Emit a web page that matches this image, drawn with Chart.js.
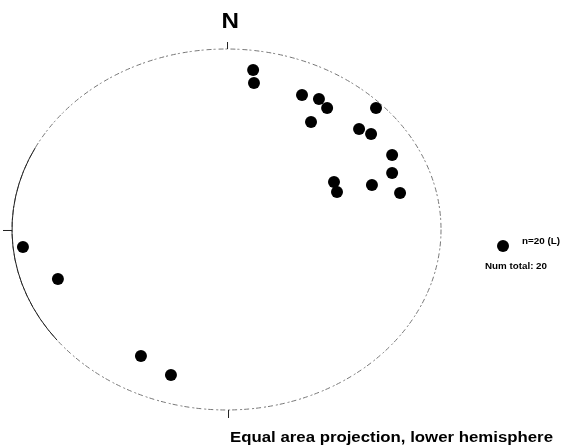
<!DOCTYPE html>
<html lang="en">
<head>
<meta charset="UTF-8">
<title>Equal area projection</title>
<script src="https://cdn.jsdelivr.net/npm/chart.js"></script>
<style>
    html, body { margin: 0; padding: 0; background: #fff; }
    #wrap { width: 562px; height: 445px; }
</style>
</head>
<body>
<div id="wrap"><canvas id="net"></canvas></div>
<script>
    // pole positions in net coordinates (-1..1, centre of the primitive circle)
    const poleX = [0.124, 0.128, 0.352, 0.431, 0.469, 0.697, 0.394, 0.618, 0.674, 0.772,
                   0.772, 0.501, 0.515, 0.678, 0.809, -0.949, -0.786, -0.399, -0.259];
    const poleY = [0.884, 0.812, 0.745, 0.723, 0.673, 0.673, 0.596, 0.557, 0.529, 0.413,
                   0.313, 0.263, 0.208, 0.247, 0.202, -0.097, -0.274, -0.701, -0.806];
    const legendX = [1.289];
    const legendY = [-0.091];
    const legendLines = ['n=20 (L)', 'Num total: 20'];
    const northLabel = 'N';
    const caption = 'Equal area projection, lower hemisphere';

    // axis ranges so that the unit circle sits where the original net is
    const xMin = -1.056, xMax = 1.564;
    const yMin = -1.194, yMax = 1.2715;

    const poles = poleX.map((x, i) => ({ x: x, y: poleY[i] }));
    const legendPts = legendX.map((x, i) => ({ x: x, y: legendY[i] }));

    function stretchedText(ctx, txt, x, y, sx) {
        ctx.save();
        ctx.translate(x, y);
        ctx.scale(sx, 1);
        ctx.fillText(txt, 0, 0);
        ctx.restore();
    }

    const netPlugin = {
        id: 'net',
        beforeDatasetsDraw(chart) {
            const ctx = chart.ctx;
            const sx = chart.scales.x, sy = chart.scales.y;
            const cx = sx.getPixelForValue(0), cy = sy.getPixelForValue(0);
            const rx = sx.getPixelForValue(1) - cx;
            const ry = cy - sy.getPixelForValue(1);
            ctx.save();
            // primitive circle, broken grey like the scan
            ctx.strokeStyle = '#777';
            ctx.lineWidth = 1;
            ctx.setLineDash([5, 2, 2, 3]);
            ctx.beginPath();
            ctx.ellipse(cx, cy, rx, ry, 0, 0, Math.PI * 2);
            ctx.stroke();
            // left part is darker and solid in the original
            ctx.setLineDash([]);
            ctx.strokeStyle = '#222';
            ctx.beginPath();
            ctx.ellipse(cx, cy, rx, ry, 0, Math.PI * 0.79, Math.PI * 1.15);
            ctx.stroke();
            ctx.beginPath();
            // N, W and S ticks
            ctx.moveTo(cx + 1, cy - ry); ctx.lineTo(cx + 1, cy - ry - 7);
            ctx.moveTo(cx - rx, cy + 1); ctx.lineTo(cx - rx - 9, cy + 1);
            ctx.moveTo(cx + 2, cy + ry); ctx.lineTo(cx + 2, cy + ry + 8);
            ctx.stroke();

            ctx.fillStyle = '#000';
            ctx.textBaseline = 'alphabetic';
            ctx.textAlign = 'left';
            ctx.font = 'bold 22px "Liberation Sans", Arial, sans-serif';
            stretchedText(ctx, northLabel, cx - 5, cy - ry - 21, 1.1);

            ctx.font = 'bold 14px "Liberation Sans", Arial, sans-serif';
            const w = ctx.measureText(caption).width;
            stretchedText(ctx, caption, 230, 442, 323 / w);

            const lx = sx.getPixelForValue(legendX[0]);
            const ly = sy.getPixelForValue(legendY[0]);
            ctx.font = 'bold 9px "Liberation Sans", Arial, sans-serif';
            const w1 = ctx.measureText(legendLines[0]).width;
            stretchedText(ctx, legendLines[0], lx + 19, ly - 2, 38 / w1);
            const w2 = ctx.measureText(legendLines[1]).width;
            stretchedText(ctx, legendLines[1], lx - 18, ly + 23, 62 / w2);
            ctx.restore();
        }
    };

    new Chart(document.getElementById('net'), {
        type: 'scatter',
        data: {
            datasets: [{
                label: 'poles',
                data: poles,
                pointRadius: 6,
                pointHoverRadius: 6,
                backgroundColor: '#000',
                borderColor: '#000',
                borderWidth: 0
            }, {
                label: 'legend',
                data: legendPts,
                pointRadius: 6,
                pointHoverRadius: 6,
                backgroundColor: '#000',
                borderColor: '#000',
                borderWidth: 0
            }]
        },
        options: {
            responsive: true,
            maintainAspectRatio: false,
            animation: false,
            layout: { padding: 0, autoPadding: false },
            plugins: { legend: { display: false }, tooltip: { enabled: false } },
            scales: {
                x: { type: 'linear', min: xMin, max: xMax, display: false },
                y: { type: 'linear', min: yMin, max: yMax, display: false }
            }
        },
        plugins: [netPlugin]
    });
</script>
</body>
</html>
